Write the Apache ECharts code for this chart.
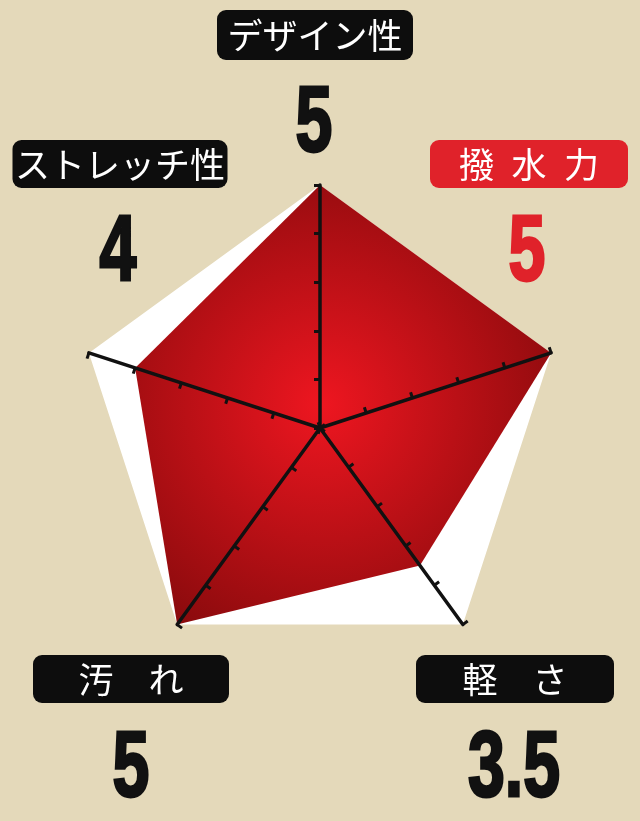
<!DOCTYPE html>
<html>
<head>
<meta charset="utf-8">
<script src="https://cdn.jsdelivr.net/npm/echarts@6/dist/echarts.min.js"></script>
<style>
  html, body { margin: 0; padding: 0; background: #e4d9ba; }
  #chart { width: 640px; height: 821px; }
</style>
</head>
<body>
<div id="chart"></div>
<script>
// 評価項目（上から反時計回り）
var categories = ['デザイン性', 'ストレッチ性', '汚れ', '軽さ', '撥水力'];
// 表示用のラベル（字間あり）
var boxLabels = ['デザイン性', 'ストレッチ性', '汚\u3000れ', '軽\u3000さ', '撥\u2002水\u2002力'];
var scores = [5, 4, 5, 3.5, 5];
var maxScore = 5;

// ラベルの配置（ボックス中心・数値中心）
var labelLayout = [
    { box: [315, 35, 196, 50], num: [314, 122], color: '#111' },
    { box: [120, 164, 215, 48], num: [118, 251], color: '#111' },
    { box: [131, 679, 196, 48], num: [131, 767], color: '#111' },
    { box: [515, 679, 198, 48], num: [514, 767], color: '#111' },
    { box: [529, 164, 198, 48], num: [527, 251], color: '#e0222a' }
];

var chart = echarts.init(document.getElementById('chart'));

// ラベル（黒い角丸ボックス＋大きな数字）
var graphics = [];
categories.forEach(function (name, i) {
    var L = labelLayout[i];
    var b = L.box;
    graphics.push({
        type: 'rect',
        shape: { x: b[0] - b[2] / 2, y: b[1] - b[3] / 2, width: b[2], height: b[3], r: 9 },
        style: { fill: i === 4 ? '#e0222a' : '#0d0d0d' }
    });
    graphics.push({
        type: 'text',
        x: b[0], y: b[1] + 1,
        style: {
            text: boxLabels[i],
            fill: '#fff',
            font: 'normal 35px "Noto Sans CJK JP"',
            textAlign: 'center',
            textVerticalAlign: 'middle'
        }
    });
    graphics.push({
        type: 'text',
        x: L.num[0], y: L.num[1] + 4,
        scaleX: 0.72,
        style: {
            text: String(scores[i]),
            fill: L.color,
            stroke: L.color,
            lineWidth: 3,
            font: 'bold 92px "Liberation Sans", Arial, sans-serif',
            textAlign: 'center',
            textVerticalAlign: 'middle'
        }
    });
});

var radarBase = {
    center: [320, 428],
    radius: 243,
    startAngle: 90,
    shape: 'polygon',
    splitNumber: 5,
    indicator: categories.map(function (c) { return { name: c, min: 0, max: maxScore }; }),
    axisName: { show: false }
};

var option = {
    backgroundColor: '#e4d9ba',
    animation: false,
    radar: [
        // 白い五角形（背景）
        Object.assign({}, radarBase, {
            z: 1,
            axisLine: { show: false },
            axisTick: { show: false },
            splitLine: { show: false },
            splitArea: { show: true, areaStyle: { color: ['#ffffff'] } }
        }),
        // 目盛り付きの軸線（前面）
        Object.assign({}, radarBase, {
            z: 5,
            axisLine: { lineStyle: { color: '#111', width: 3.5 } },
            axisTick: { show: true, length: 6, lineStyle: { color: '#111', width: 3 } },
            splitLine: { show: false },
            splitArea: { show: false }
        })
    ],
    series: [{
        type: 'radar',
        radarIndex: 0,
        symbol: 'none',
        z: 2,
        lineStyle: { width: 0 },
        areaStyle: {
            opacity: 1,
            color: new echarts.graphic.RadialGradient(0.45, 0.5, 0.65, [
                { offset: 0, color: '#ee1620' },
                { offset: 1, color: '#860a0c' }
            ])
        },
        data: [{ value: scores, name: '評価' }]
    }],
    graphic: graphics
};

chart.setOption(option);
</script>
</body>
</html>
